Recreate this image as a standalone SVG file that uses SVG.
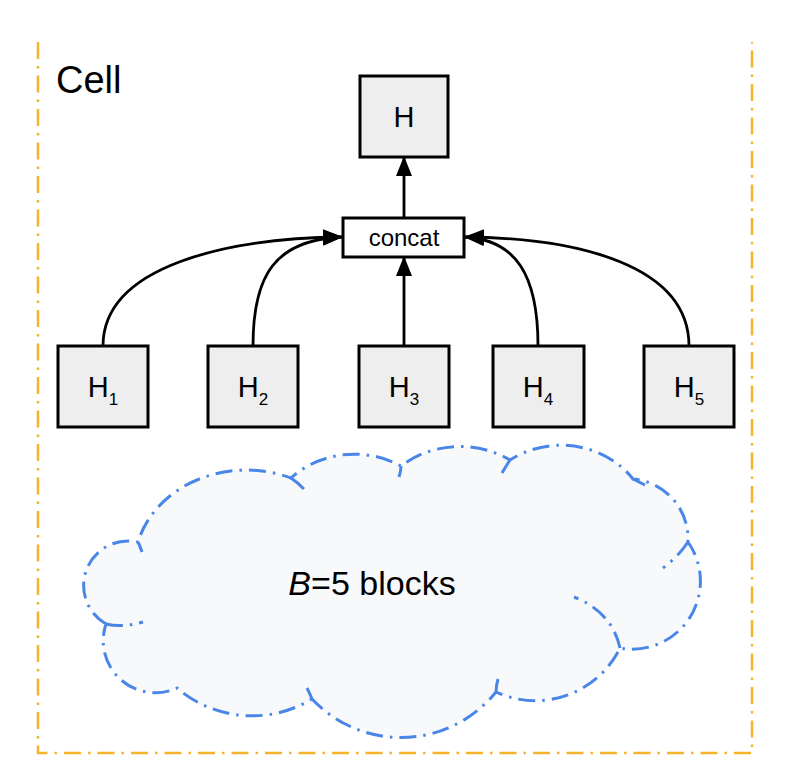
<svg xmlns="http://www.w3.org/2000/svg" width="804" height="784" viewBox="0 0 804 784">
<defs>
<marker id="ah" markerUnits="userSpaceOnUse" markerWidth="20" markerHeight="16" refX="19" refY="8" orient="auto">
<path d="M0,0 L20,8 L0,16 Z" fill="#000"/>
</marker>
<style>
.box{fill:#eeeeee;stroke:#000;stroke-width:3}
.lbl{font-family:"Liberation Sans",Arial,sans-serif;fill:#000}
.edge{fill:none;stroke:#000;stroke-width:2.8}
.cloud{stroke:#4a86e8;stroke-width:3;stroke-dasharray:17 7 2.5 7;fill:none}
</style>
</defs>
<rect width="804" height="784" fill="#fff"/>
<path d="M38,42 V753 H752 V42" fill="none" stroke="#f6b42c" stroke-width="2.5" stroke-dasharray="17 7 2.5 7"/>
<text class="lbl" x="56" y="93" font-size="38">Cell</text>

<g id="cloud">
<path class="cloud" style="fill:#f8f9fb" d="M106,624 A44.5,44.5 0 0,1 138,542 A112,96 0 0,1 291,478 A89,80 0 0,1 401,466 A92,84 0 0,1 510,460 A89,82 0 0,1 633,479 A60,60 0 0,1 688,542 A68,68 0 0,1 620,648 A94,94 0 0,1 496,692 A122,122 0 0,1 312,699 A115,115 0 0,1 177,688 A52,52 0 0,1 106,624 Z"/>
<path class="cloud" d="M106,624 Q122,628 143,622"/>
<path class="cloud" d="M138,542 Q140,546 142,552"/>
<path class="cloud" d="M291,478 Q297,482 304,489"/>
<path class="cloud" d="M401,466 Q401,471 399,477"/>
<path class="cloud" d="M510,460 Q506,466 502,473"/>
<path class="cloud" d="M633,479 Q639,482 645,485"/>
<path class="cloud" d="M688,542 Q678,557 663,568"/>
<path class="cloud" d="M620,648 Q612,612 574,597"/>
<path class="cloud" d="M496,692 Q496,686 498,679"/>
<path class="cloud" d="M312,699 Q310,694 307,688"/>
<text class="lbl" x="372" y="595" font-size="34" text-anchor="middle"><tspan font-style="italic">B</tspan>=5 blocks</text>
</g>

<g id="connectors">
<path class="edge" d="M404,218 V157" marker-end="url(#ah)"/>
<path class="edge" d="M404,346 V257" marker-end="url(#ah)"/>
<path class="edge" d="M103,346 C103,265 230,238 342,237" marker-end="url(#ah)"/>
<path class="edge" d="M253,346 C253,275 275,240 342,237" marker-end="url(#ah)"/>
<path class="edge" d="M538,346 C538,275 516,240 465,237" marker-end="url(#ah)"/>
<path class="edge" d="M689,346 C689,265 578,238 465,237" marker-end="url(#ah)"/>
</g>

<g id="H">
<rect class="box" x="360" y="76" width="88" height="81"/>
<text class="lbl" x="404" y="127" font-size="29" text-anchor="middle">H</text>
</g>
<g id="concat">
<rect x="343" y="218" width="121" height="39" fill="#fff" stroke="#000" stroke-width="3"/>
<text class="lbl" x="404" y="246" font-size="24" text-anchor="middle">concat</text>
</g>
<g id="H1">
<rect class="box" x="58" y="346" width="90" height="81"/>
<text class="lbl" x="103" y="397" font-size="29" text-anchor="middle">H<tspan font-size="17" dy="8">1</tspan></text>
</g>
<g id="H2">
<rect class="box" x="208" y="346" width="90" height="81"/>
<text class="lbl" x="253" y="397" font-size="29" text-anchor="middle">H<tspan font-size="17" dy="8">2</tspan></text>
</g>
<g id="H3">
<rect class="box" x="359" y="346" width="90" height="81"/>
<text class="lbl" x="404" y="397" font-size="29" text-anchor="middle">H<tspan font-size="17" dy="8">3</tspan></text>
</g>
<g id="H4">
<rect class="box" x="493" y="346" width="91" height="81"/>
<text class="lbl" x="538" y="397" font-size="29" text-anchor="middle">H<tspan font-size="17" dy="8">4</tspan></text>
</g>
<g id="H5">
<rect class="box" x="644" y="346" width="90" height="81"/>
<text class="lbl" x="689" y="397" font-size="29" text-anchor="middle">H<tspan font-size="17" dy="8">5</tspan></text>
</g>
</svg>
